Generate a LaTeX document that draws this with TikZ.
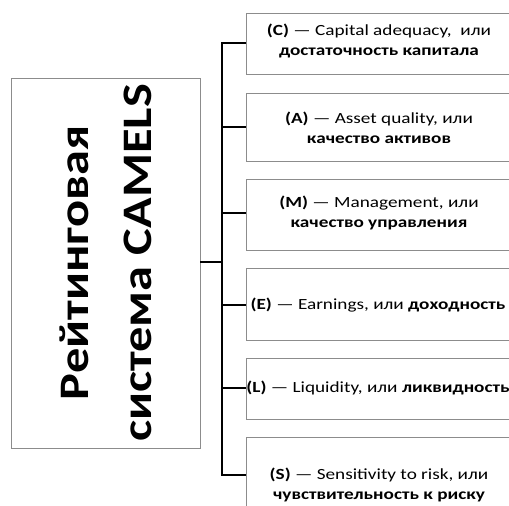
\documentclass[tikz,border=0pt]{standalone}
\usepackage{fontspec}
\setmainfont{Carlito}
\begin{document}
\begin{tikzpicture}[x=1pt,y=-1pt,
  boxstyle/.style={draw=black!45, line width=0.9pt},
  itemtext/.style={align=center, font=\fontsize{15.5}{19.5}\selectfont, inner sep=0pt, xscale=1.24},
  wire/.style={draw=black, line width=1.8pt}]
\useasboundingbox (0,0) rectangle (509,506);
% left box
\draw[boxstyle] (11,78) rectangle (200,448);
\node[rotate=90, xscale=1.2, align=center, inner sep=0pt, font=\fontsize{42}{63}\selectfont\bfseries] (main) at (105.5,263) {Рейтинговая\\система CAMELS};
\coordinate (mainR) at (200,262);
% right boxes
\draw[boxstyle] (246,13) rectangle (514,74);
\draw[boxstyle] (246,93) rectangle (514,161);
\draw[boxstyle] (246,179) rectangle (514,250);
\draw[boxstyle] (246,268) rectangle (514,340);
\draw[boxstyle] (246,358) rectangle (514,419);
\draw[boxstyle] (246,437) rectangle (514,520);
\node[itemtext] (c) at (379,41) {\textbf{(C)} — Capital adequacy,\ \ или\\\textbf{достаточность капитала}};
\node[itemtext] (a) at (379,128) {\textbf{(A)} — Asset quality, или\\\textbf{качество активов}};
\node[itemtext] (m) at (379,213) {\textbf{(M)} — Management, или\\\textbf{качество управления}};
\node[itemtext] (e) at (378,305) {\textbf{(E)} — Earnings, или \textbf{доходность}};
\node[itemtext] (l) at (378,388) {\textbf{(L)} — Liquidity, или \textbf{ликвидность}};
\node[itemtext] (s) at (379,485) {\textbf{(S)} — Sensitivity to risk, или\\\textbf{чувствительность к риску}};
\coordinate (t) at (222,262);
\coordinate (pc) at (246,43);
\coordinate (pa) at (246,127);
\coordinate (pm) at (246,213);
\coordinate (pe) at (246,305);
\coordinate (pl) at (246,388);
\coordinate (ps) at (246,475);
\draw[wire] (mainR) -- (t);
\draw[wire] (pc) -| (t |- ps) -- (ps);
\foreach \p in {pa,pm,pe,pl} \draw[wire] (t |- \p) -- (\p);
\end{tikzpicture}
\end{document}
